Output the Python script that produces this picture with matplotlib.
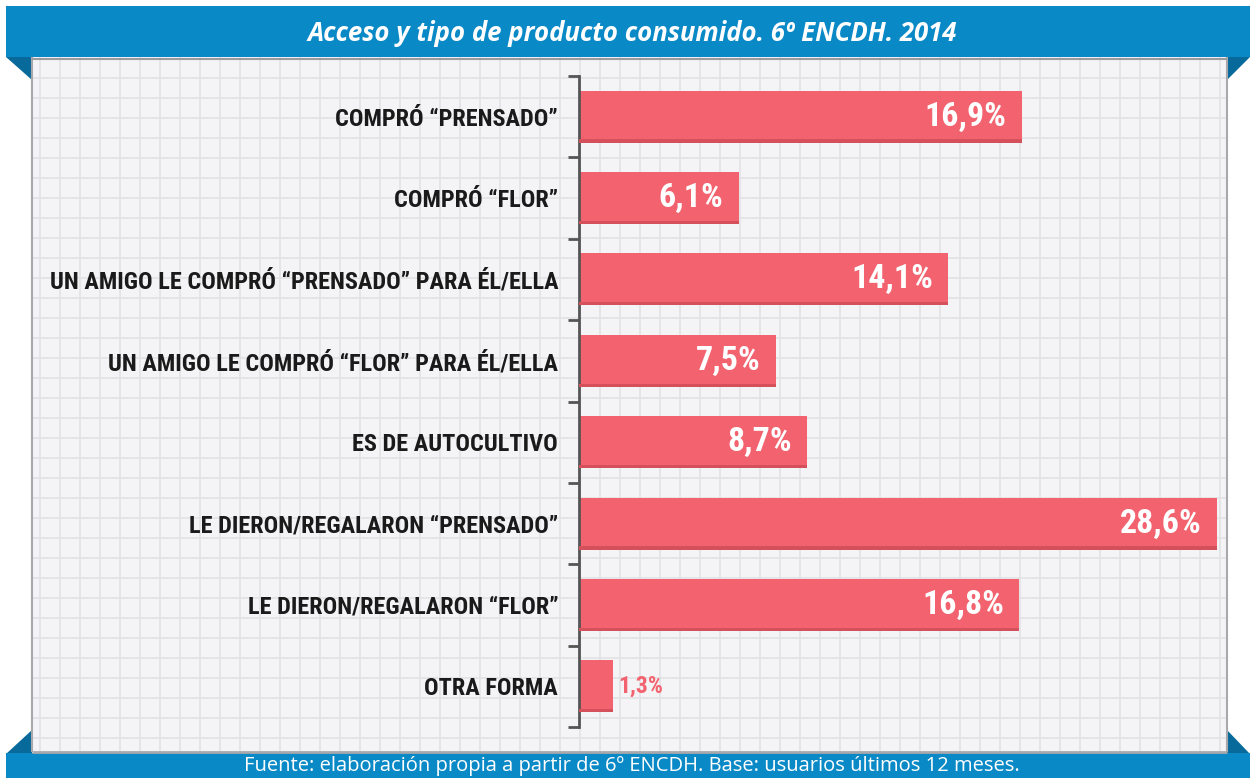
import matplotlib
matplotlib.use("Agg")
import matplotlib.pyplot as plt
from matplotlib.patches import Rectangle, Polygon
import numpy as np

# data
categories = [
    "COMPRÓ “PRENSADO”",
    "COMPRÓ “FLOR”",
    "UN AMIGO LE COMPRÓ “PRENSADO” PARA ÉL/ELLA",
    "UN AMIGO LE COMPRÓ “FLOR” PARA ÉL/ELLA",
    "ES DE AUTOCULTIVO",
    "LE DIERON/REGALARON “PRENSADO”",
    "LE DIERON/REGALARON “FLOR”",
    "OTRA FORMA",
]
values = [16.9, 6.1, 14.1, 7.5, 8.7, 28.6, 16.8, 1.3]
value_labels = ["16,9%", "6,1%", "14,1%", "7,5%", "8,7%", "28,6%", "16,8%", "1,3%"]

title = "Acceso y tipo de producto consumido. 6º ENCDH. 2014"
source = "Fuente: elaboración propia a partir de 6º ENCDH. Base: usuarios últimos 12 meses."

W, H = 1255, 778
BLUE = "#0a89c7"
DARK_BLUE = "#086a9b"
BAR = "#f2636f"
BAR_DARK = "#d4505b"
LABEL_FONT = ["Roboto Condensed", "Archivo Narrow", "Roboto", "DejaVu Sans"]

fig = plt.figure(figsize=(W / 100, H / 100), dpi=100)
fig.patch.set_facecolor("white")

# background layer in pixel coordinates
bg = fig.add_axes([0, 0, 1, 1])
bg.set_xlim(0, W)
bg.set_ylim(H, 0)
bg.axis("off")

# grid paper panel
bg.add_patch(Rectangle((32, 57), 1195, 695, facecolor="#f4f3f5", edgecolor="none"))
bg.vlines(np.arange(40, 1227, 20), 57, 752, color="#e2e1e5", lw=1.2)
bg.hlines(np.arange(78, 752, 20), 32, 1227, color="#e2e1e5", lw=1.2)
bg.vlines([32, 1227], 57, 752, color="#a9a8ac", lw=1.5)
bg.hlines([752], 32, 1227, color="#a9a8ac", lw=2)
bg.hlines([58.5], 32, 1227, color="#9c9ba0", lw=1.5)

# banners and folds
bg.add_patch(Rectangle((6, 6), 1244, 51, facecolor=BLUE, edgecolor="none"))
bg.add_patch(Polygon([(6, 57), (32, 57), (32, 80)], closed=True, facecolor=DARK_BLUE, edgecolor="none"))
bg.add_patch(Polygon([(1227, 57), (1250, 57), (1227, 80)], closed=True, facecolor=DARK_BLUE, edgecolor="none"))
bg.add_patch(Polygon([(6, 754), (32, 730), (32, 754)], closed=True, facecolor=DARK_BLUE, edgecolor="none"))
bg.add_patch(Polygon([(1227, 730), (1250, 754), (1227, 754)], closed=True, facecolor=DARK_BLUE, edgecolor="none"))
bg.add_patch(Rectangle((6, 753), 1244, 25, facecolor=BLUE, edgecolor="none"))

bg.text(632, 33, title, color="white", fontsize=18.5, fontweight="bold", fontstyle="italic",
        family=["Open Sans", "DejaVu Sans"], ha="center", va="center")
bg.text(632, 766, source, color="white", fontsize=14.5,
        family=["Open Sans", "DejaVu Sans"], ha="center", va="center")

# bar chart
ax = fig.add_axes([579 / W, 1 - 727 / H, (1217 - 579) / W, (727 - 76) / H])
ax.patch.set_alpha(0)
y = np.arange(len(categories))
xmax = 24.35
ax.barh(y, values, height=0.64, color=BAR, edgecolor="none", zorder=2)
ax.barh(y + 0.30, values, height=0.04, color=BAR_DARK, edgecolor="none", zorder=3)
ax.set_xlim(0, xmax)
ax.set_ylim(len(categories) - 0.5, -0.5)

for spine in ["top", "right", "bottom"]:
    ax.spines[spine].set_visible(False)
ax.spines["left"].set_color("#555555")
ax.spines["left"].set_linewidth(2)
ax.set_xticks([])
ax.set_yticks(y)
ax.set_yticklabels(categories, fontsize=17.5, fontweight="bold", family=LABEL_FONT, color="#1a1a1a")
ax.tick_params(axis="y", which="major", length=0, pad=15)
ax.set_yticks(np.arange(-0.5, len(categories), 1), minor=True)
ax.tick_params(axis="y", which="minor", length=8, width=2, color="#555555", direction="out")

for yi, v, lab in zip(y, values, value_labels):
    if v < 3:
        ax.annotate(lab, (v, yi), xytext=(4, 0), textcoords="offset points",
                    ha="left", va="center", color=BAR, fontsize=17, fontweight="bold",
                    family=LABEL_FONT, zorder=4)
    else:
        ax.annotate(lab, (min(v, xmax), yi), xytext=(-11, 0), textcoords="offset points",
                    ha="right", va="center", color="white", fontsize=24.5, fontweight="bold",
                    family=LABEL_FONT, zorder=4)

fig.savefig("out.png", dpi=100)
